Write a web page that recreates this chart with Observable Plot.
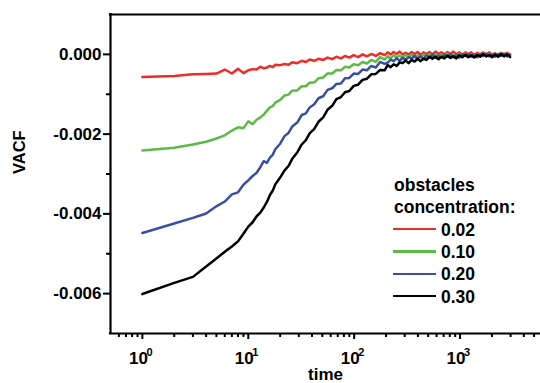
<!DOCTYPE html>
<html><head><meta charset="utf-8">
<script src="https://cdn.jsdelivr.net/npm/d3@7"></script>
<script src="https://cdn.jsdelivr.net/npm/@observablehq/plot@0.6"></script>
<style>
body{margin:0;background:#fff;}
#wrap{position:relative;width:540px;height:383px;font-family:"Liberation Sans",Arial,sans-serif;font-weight:bold;}
.leg{position:absolute;font-size:17.5px;line-height:22.3px;color:#000;white-space:nowrap;}
.sw{position:absolute;width:43px;height:2.6px;}
</style></head><body><div id="wrap"></div>
<script>
// time grid (shared by all series)
const time = [1,2,3,4,5,6,7,8,9,10,11,12,13,14,15,16,17,18,20,
  22,24,26,29,32,35,38,42,46,51,56,62,68,75,82,90,99,109,120,132,145,160,176,194,
  207,221,236,252,269,287,306,327,349,372,397,424,452,482,514,549,586,625,667,712,
  760,811,865,923,985,1051,1121,1196,1276,1362,1453,1550,1654,1765,1883,2010,2144,2288,2441,2605,2780,2966];

// VACF for each obstacle concentration
const c002 = [-0.00057,-0.00054,-0.00050,-0.00049,-0.00048,-0.00038,-0.00048,-0.00036,-0.00047,-0.00040,-0.00037,-0.00038,-0.00031,-0.00035,-0.00033,-0.00029,-0.00032,-0.00026,-0.00027,
  -0.00024,-0.00026,-0.00020,-0.00022,-0.00016,-0.00019,-0.00013,-0.00016,-0.00011,-0.00014,-0.00008,-0.00012,-0.00006,-0.00010,-0.00004,-0.00008,-0.00002,-0.00007,0.00000,-0.00005,0.00001,-0.00004,0.00003,-0.00002,
  0.00005,0.00000,0.00006,0.00001,0.00007,0.00000,0.00004,0.00000,0.00006,0.00001,
  0.00006,-0.00001,0.00005,0.00001,0.00006,0.00000,0.00007,0.00001,0.00005,0.00000,
  0.00006,0.00001,0.00007,0.00000,0.00005,-0.00001,0.00005,0.00000,0.00005,-0.00002,
  0.00004,0.00000,0.00005,-0.00001,0.00005,-0.00001,0.00003,-0.00002,0.00004,-0.00001,
  0.00004,-0.00002];
const c010 = [-0.00241,-0.00234,-0.00226,-0.00219,-0.00211,-0.00203,-0.00191,-0.00183,-0.00185,-0.00168,-0.00175,-0.00164,-0.00158,-0.00151,-0.00141,-0.00133,-0.00130,-0.00121,-0.00114,
  -0.00103,-0.00101,-0.00091,-0.00090,-0.00080,-0.00080,-0.00071,-0.00070,-0.00060,-0.00058,-0.00048,-0.00048,-0.00039,-0.00040,-0.00031,-0.00033,-0.00025,-0.00027,-0.00019,-0.00023,-0.00014,-0.00019,-0.00007,-0.00013,
  -0.00005,-0.00010,-0.00002,-0.00008,-0.00003,-0.00009,-0.00001,-0.00006,0.00000,-0.00007,
  -0.00002,-0.00007,0.00000,-0.00004,0.00001,-0.00006,-0.00001,-0.00007,0.00000,-0.00004,
  0.00002,-0.00005,-0.00001,-0.00006,0.00001,-0.00004,0.00002,-0.00005,0.00000,-0.00006,
  0.00001,-0.00003,0.00003,-0.00004,0.00001,-0.00005,0.00002,-0.00002,0.00003,-0.00004,
  0.00001,-0.00004];
const c020 = [-0.00448,-0.00424,-0.00410,-0.00399,-0.00381,-0.00369,-0.00351,-0.00346,-0.00327,-0.00316,-0.00305,-0.00297,-0.00283,-0.00268,-0.00272,-0.00259,-0.00252,-0.00238,-0.00224,
  -0.00205,-0.00197,-0.00181,-0.00171,-0.00152,-0.00148,-0.00133,-0.00125,-0.00110,-0.00105,-0.00089,-0.00085,-0.00074,-0.00073,-0.00060,-0.00059,-0.00048,-0.00049,-0.00038,-0.00040,-0.00029,-0.00033,-0.00019,-0.00024,
  -0.00021,-0.00013,-0.00017,-0.00010,-0.00016,-0.00009,-0.00013,-0.00007,-0.00010,-0.00004,
  -0.00011,-0.00005,-0.00011,-0.00003,-0.00008,-0.00001,-0.00008,-0.00004,-0.00008,-0.00001,
  -0.00006,0.00000,-0.00007,-0.00002,-0.00008,0.00000,-0.00004,0.00001,-0.00006,-0.00001,
  -0.00007,0.00000,-0.00004,0.00002,-0.00005,-0.00001,-0.00006,0.00001,-0.00004,0.00002,
  -0.00005,0.00000];
const c030 = [-0.00601,-0.00573,-0.00558,-0.00532,-0.00512,-0.00495,-0.00482,-0.00469,-0.00450,-0.00432,-0.00421,-0.00406,-0.00397,-0.00384,-0.00370,-0.00353,-0.00342,-0.00326,-0.00309,
  -0.00291,-0.00280,-0.00262,-0.00246,-0.00226,-0.00215,-0.00198,-0.00187,-0.00169,-0.00158,-0.00139,-0.00129,-0.00112,-0.00107,-0.00095,-0.00092,-0.00079,-0.00076,-0.00064,-0.00061,-0.00050,-0.00049,-0.00039,-0.00040,
  -0.00027,-0.00032,-0.00025,-0.00029,-0.00020,-0.00022,-0.00015,-0.00022,-0.00014,-0.00018,
  -0.00011,-0.00017,-0.00011,-0.00014,-0.00006,-0.00011,-0.00006,-0.00012,-0.00006,-0.00010,
  -0.00003,-0.00009,-0.00005,-0.00010,-0.00002,-0.00007,-0.00001,-0.00007,-0.00002,-0.00008,
  -0.00001,-0.00006,0.00001,-0.00005,-0.00001,-0.00007,0.00000,-0.00006,0.00001,-0.00005,
  0.00000,-0.00007];

const seriesLabels = ["0.02","0.10","0.20","0.30"];
const seriesColors = ["#ee2c25","#5cba45","#3a4fa2","#000000"];
const seriesValues = [c002, c010, c020, c030];

const xDomain = [0.5, 5750];
const yDomain = [-0.007, 0.001];
const xMajor = [1, 10, 100, 1000];
const xMinor = [0.6,0.7,0.8,0.9,2,3,4,5,6,7,8,9,20,30,40,50,60,70,80,90,200,300,400,500,600,700,800,900,2000,3000,4000,5000];
const yMajor = [-0.006, -0.004, -0.002, 0];
const yMinor = [-0.005, -0.003, -0.001];
const xTitle = "time";
const yTitle = "VACF";

const font = '"Liberation Sans", Arial, sans-serif';

const lines = seriesValues.map((vals, i) =>
  Plot.line(time, {x: time, y: vals, stroke: seriesColors[i], strokeWidth: 2.5}));

const chart = Plot.plot({
  width: 540, height: 383,
  marginLeft: 110, marginRight: 0, marginTop: 14, marginBottom: 50,
  style: {fontFamily: font, fontSize: "17px", fontWeight: "bold", background: "white", color: "#000", overflow: "visible"},
  x: {type: "log", domain: xDomain},
  y: {domain: yDomain},
  marks: [
    ...lines,
    Plot.axisY(yMinor, {tickSize: 4, tickFormat: () => "", strokeWidth: 2, label: null}),
    Plot.axisY(yMajor, {tickSize: 7, tickPadding: 2, tickFormat: v => v.toFixed(3), strokeWidth: 2,
      fontSize: 17, fontWeight: "bold", label: null}),
    Plot.axisX(xMinor, {tickSize: 4, tickFormat: () => "", strokeWidth: 2, label: null}),
    Plot.axisX(xMajor, {tickSize: 6, tickFormat: () => "", strokeWidth: 2, label: null}),
    Plot.text(xMajor, {x: d => d, frameAnchor: "bottom", lineAnchor: "bottom", dy: 30, dx: -4,
      text: () => "10", fontSize: 17, fontWeight: "bold"}),
    Plot.text(xMajor, {x: d => d, frameAnchor: "bottom", lineAnchor: "bottom", dy: 22, dx: 4,
      textAnchor: "start", text: d => String(Math.round(Math.log10(d))), fontSize: 11, fontWeight: "bold"}),
    Plot.text([yTitle], {frameAnchor: "left", dx: -91, rotate: -90, fontSize: 16.5, fontWeight: "bold"}),
    Plot.text([xTitle], {frameAnchor: "bottom", lineAnchor: "bottom", dy: 46, fontSize: 17, fontWeight: "bold"}),
    Plot.ruleX([xDomain[0]], {strokeWidth: 2.2, strokeLinecap: "square"}),
    Plot.ruleY([yDomain[0]], {strokeWidth: 2.2, strokeLinecap: "square"}),
    Plot.ruleY([yDomain[1]], {strokeWidth: 2.2, strokeLinecap: "square"})
  ]
});

const wrap = document.getElementById("wrap");
wrap.appendChild(chart);

// legend (HTML overlay)
const legTitle = ["obstacles", "concentration:"];
legTitle.forEach((t, i) => {
  const d = document.createElement("div");
  d.className = "leg";
  d.style.left = "394px";
  d.style.top = (174 + i * 22.3) + "px";
  d.textContent = t;
  wrap.appendChild(d);
});
seriesLabels.forEach((lab, i) => {
  const top = 218.5 + i * 22.4;
  const sw = document.createElement("div");
  sw.className = "sw";
  sw.style.left = "393px";
  sw.style.top = (top + 9.2) + "px";
  sw.style.background = seriesColors[i];
  wrap.appendChild(sw);
  const d = document.createElement("div");
  d.className = "leg";
  d.style.left = "441px";
  d.style.top = top + "px";
  d.textContent = lab;
  wrap.appendChild(d);
});
</script></body></html>
